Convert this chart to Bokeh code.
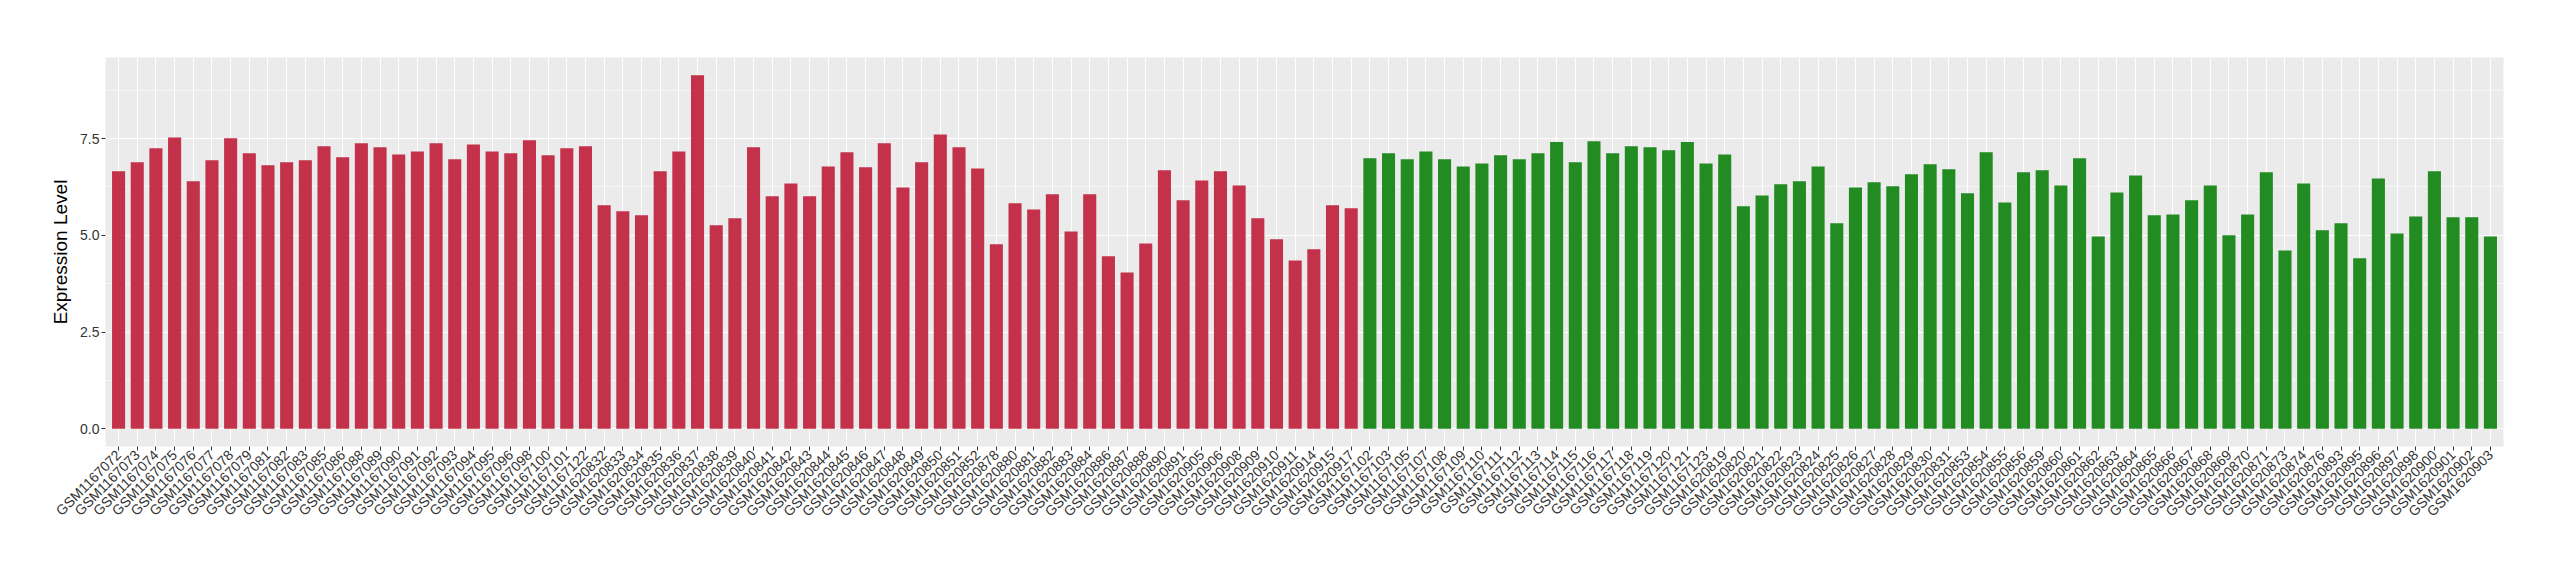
import math
from bokeh.plotting import figure
from bokeh.models import FactorRange, Range1d, FixedTicker, ColumnDataSource, NumeralTickFormatter
from bokeh.embed import file_html
from bokeh.resources import INLINE

red_samples = ["GSM1167072", "GSM1167073", "GSM1167074", "GSM1167075", "GSM1167076", "GSM1167077",
               "GSM1167078", "GSM1167079", "GSM1167081", "GSM1167082", "GSM1167083", "GSM1167085",
               "GSM1167086", "GSM1167088", "GSM1167089", "GSM1167090", "GSM1167091", "GSM1167092",
               "GSM1167093", "GSM1167094", "GSM1167095", "GSM1167096", "GSM1167098", "GSM1167100",
               "GSM1167101", "GSM1167122", "GSM1620832", "GSM1620833", "GSM1620834", "GSM1620835",
               "GSM1620836", "GSM1620837", "GSM1620838", "GSM1620839", "GSM1620840", "GSM1620841",
               "GSM1620842", "GSM1620843", "GSM1620844", "GSM1620845", "GSM1620846", "GSM1620847",
               "GSM1620848", "GSM1620849", "GSM1620850", "GSM1620851", "GSM1620852", "GSM1620878",
               "GSM1620880", "GSM1620881", "GSM1620882", "GSM1620883", "GSM1620884", "GSM1620886",
               "GSM1620887", "GSM1620888", "GSM1620890", "GSM1620891", "GSM1620905", "GSM1620906",
               "GSM1620908", "GSM1620909", "GSM1620910", "GSM1620911", "GSM1620914", "GSM1620915",
               "GSM1620917"]
red_values = [6.66, 6.89, 7.25, 7.53, 6.40, 6.94, 7.51, 7.12, 6.81, 6.89, 6.94, 7.30, 7.02,
              7.38, 7.28, 7.09, 7.17, 7.38, 6.97, 7.35, 7.17, 7.12, 7.46, 7.07, 7.25, 7.30,
              5.78, 5.62, 5.52, 6.66, 7.17, 9.14, 5.26, 5.44, 7.28, 6.01, 6.34, 6.01, 6.78,
              7.15, 6.76, 7.38, 6.24, 6.89, 7.61, 7.28, 6.73, 4.77, 5.83, 5.67, 6.06, 5.10,
              6.06, 4.46, 4.04, 4.79, 6.68, 5.91, 6.42, 6.66, 6.29, 5.44, 4.90, 4.35, 4.64,
              5.78, 5.70]

green_samples = ["GSM1167102", "GSM1167103", "GSM1167105", "GSM1167107", "GSM1167108", "GSM1167109",
                 "GSM1167110", "GSM1167111", "GSM1167112", "GSM1167113", "GSM1167114", "GSM1167115",
                 "GSM1167116", "GSM1167117", "GSM1167118", "GSM1167119", "GSM1167120", "GSM1167121",
                 "GSM1167123", "GSM1620819", "GSM1620820", "GSM1620821", "GSM1620822", "GSM1620823",
                 "GSM1620824", "GSM1620825", "GSM1620826", "GSM1620827", "GSM1620828", "GSM1620829",
                 "GSM1620830", "GSM1620831", "GSM1620853", "GSM1620854", "GSM1620855", "GSM1620856",
                 "GSM1620859", "GSM1620860", "GSM1620861", "GSM1620862", "GSM1620863", "GSM1620864",
                 "GSM1620865", "GSM1620866", "GSM1620867", "GSM1620868", "GSM1620869", "GSM1620870",
                 "GSM1620871", "GSM1620873", "GSM1620874", "GSM1620876", "GSM1620893", "GSM1620895",
                 "GSM1620896", "GSM1620897", "GSM1620898", "GSM1620900", "GSM1620901", "GSM1620902",
                 "GSM1620903"]
green_values = [6.99, 7.12, 6.97, 7.17, 6.97, 6.78, 6.86, 7.07, 6.97, 7.12,
                7.41, 6.89, 7.43, 7.12, 7.30, 7.28, 7.20, 7.41, 6.86, 7.09,
                5.75, 6.03, 6.32, 6.40, 6.78, 5.31, 6.24, 6.37, 6.27, 6.58,
                6.84, 6.71, 6.09, 7.15, 5.85, 6.63, 6.68, 6.29, 6.99, 4.97,
                6.11, 6.55, 5.52, 5.54, 5.91, 6.29, 5.00, 5.54, 6.63, 4.61,
                6.34, 5.13, 5.31, 4.41, 6.47, 5.05, 5.49, 6.66, 5.47, 5.47, 4.97]

y_ticks = [0, 2.5, 5, 7.5]
y_minor = [1.25, 3.75, 6.25, 8.75]

RED = "#C3314A"
GREEN = "#228B22"

samples = red_samples + green_samples
ymax = max(red_values + green_values)

p = figure(width=2544, height=564, output_backend="svg", toolbar_location=None,
           x_range=FactorRange(factors=samples, range_padding=0.2, range_padding_units="absolute"),
           y_range=Range1d(-0.05 * ymax, 1.05 * ymax),
           min_border_left=105, min_border_right=41, min_border_top=57, min_border_bottom=118)

src_r = ColumnDataSource(dict(x=red_samples, top=red_values))
src_g = ColumnDataSource(dict(x=green_samples, top=green_values))
p.vbar(x="x", top="top", bottom=0, width=0.7, source=src_r, fill_color=RED, line_color=None)
p.vbar(x="x", top="top", bottom=0, width=0.7, source=src_g, fill_color=GREEN, line_color=None)

p.background_fill_color = "#EBEBEB"
p.border_fill_color = "white"
p.outline_line_color = None

p.yaxis.ticker = FixedTicker(ticks=y_ticks, minor_ticks=y_minor)
p.yaxis.formatter = NumeralTickFormatter(format="0.0")
p.ygrid.grid_line_color = "white"
p.ygrid.grid_line_width = 1.1
p.ygrid.minor_grid_line_color = "white"
p.ygrid.minor_grid_line_width = 0.55
p.xgrid.grid_line_color = "white"
p.xgrid.grid_line_width = 1.1

for ax in (p.xaxis[0], p.yaxis[0]):
    ax.axis_line_color = None
    ax.major_tick_line_color = "#333333"
    ax.major_tick_out = 4
    ax.major_tick_in = 0
    ax.minor_tick_line_color = None
    ax.major_label_text_font = "Liberation Sans"
    ax.major_label_text_font_size = "14px"
    ax.major_label_text_color = "#333333"
    ax.major_label_standoff = 2

p.xaxis.major_label_orientation = math.pi / 4

p.yaxis.axis_label = "Expression Level"
p.yaxis.axis_label_text_font = "Liberation Sans"
p.yaxis.axis_label_text_font_size = "19px"
p.yaxis.axis_label_text_font_style = "normal"
p.yaxis.axis_label_text_color = "black"
p.yaxis.axis_label_standoff = 6

open("out.html", "w").write(file_html(p, INLINE))
